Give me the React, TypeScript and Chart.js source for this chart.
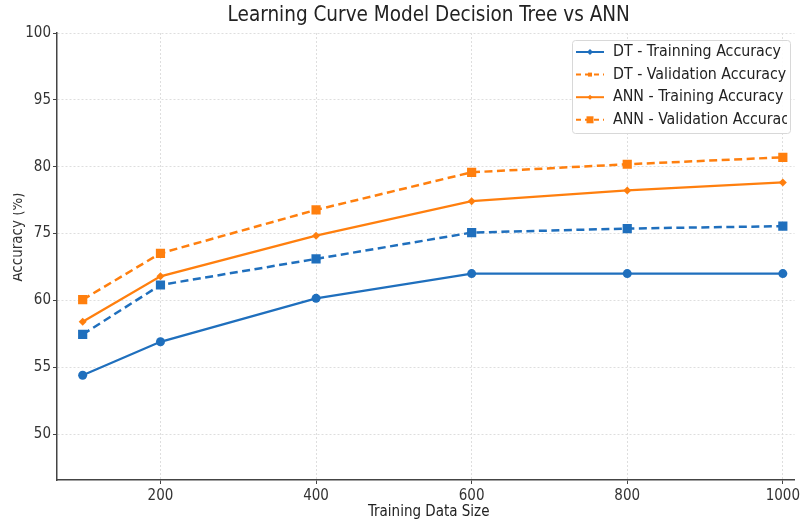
import { useEffect, useRef } from 'react';
import { Chart, registerables } from 'chart.js';

Chart.register(...registerables);

const FONT = "'DejaVu Sans Condensed', 'DejaVu Sans', sans-serif";

const chartTitle = 'Learning Curve Model Decision Tree vs ANN';
const xTitle = 'Training Data Size';
const yTitle = 'Accuracy (%)';

const trainingSizes = [100, 200, 400, 600, 800, 1000];
const xTickValues = [200, 400, 600, 800, 1000];
// evenly spaced gridline positions and the labels printed on them
const yTickPositions = [50, 55, 60, 65, 70, 75, 80];
const yTickLabels = ['50', '55', '60', '75', '80', '95', '100'];

const dtTrain = [54.4, 56.9, 60.15, 62.0, 62.0, 62.0];
const dtVal = [57.45, 61.15, 63.1, 65.07, 65.37, 65.55];
const annTrain = [58.4, 61.8, 64.84, 67.42, 68.22, 68.82];
const annVal = [60.05, 63.52, 66.77, 69.58, 70.18, 70.7];

const seriesNames = [
  'DT - Trainning Accuracy',
  'DT - Validation Accuracy',
  'ANN - Training Accuracy',
  'ANN - Validation Accuracy',
];

const BLUE = '#1f6fbd';
const ORANGE = '#ff7f0e';

const legendItems = [
  { color: BLUE, dash: [] as number[], marker: 'diamond', size: 3 },
  { color: ORANGE, dash: [5, 4], marker: 'square', size: 2 },
  { color: ORANGE, dash: [] as number[], marker: 'diamond', size: 2.5 },
  { color: ORANGE, dash: [5, 4], marker: 'square', size: 3.5 },
];

const overlayPlugin = {
  id: 'overlay',
  afterDraw(chart: any) {
    const { ctx, chartArea } = chart;
    const cx = (chartArea.left + chartArea.right) / 2;
    ctx.save();
    ctx.fillStyle = '#222';
    ctx.textAlign = 'center';
    ctx.textBaseline = 'middle';
    ctx.font = `20.5px ${FONT}`;
    ctx.fillText(chartTitle, cx + 3, 16);
    ctx.font = `15px ${FONT}`;
    ctx.fillText(xTitle, cx + 3, 512);

    // y title (partly cut at the left edge like the reference)
    ctx.save();
    ctx.beginPath();
    ctx.rect(13, 0, 40, 524);
    ctx.clip();
    ctx.translate(22, 237);
    ctx.rotate(-Math.PI / 2);
    ctx.textBaseline = 'alphabetic';
    ctx.fillStyle = '#333';
    ctx.fillText(yTitle, 0, 0);
    ctx.restore();

    // legend
    const bx = 572, by = 40, bw = 218, bh = 93;
    ctx.beginPath();
    (ctx as any).roundRect(bx + 0.5, by + 0.5, bw, bh, 3);
    ctx.fillStyle = 'rgba(255,255,255,0.9)';
    ctx.fill();
    ctx.strokeStyle = '#d8d8d8';
    ctx.lineWidth = 1;
    ctx.stroke();

    ctx.save();
    ctx.beginPath();
    ctx.rect(bx, by, bw - 3, bh);
    ctx.clip();
    legendItems.forEach((it, i) => {
      const y = 52 + i * 22.6;
      ctx.strokeStyle = it.color;
      ctx.fillStyle = it.color;
      ctx.lineWidth = 2;
      ctx.setLineDash(it.dash);
      ctx.beginPath();
      ctx.moveTo(576, y);
      ctx.lineTo(604, y);
      ctx.stroke();
      ctx.setLineDash([]);
      const mx = 590;
      ctx.beginPath();
      if (it.marker === 'diamond') {
        ctx.moveTo(mx, y - it.size);
        ctx.lineTo(mx + it.size, y);
        ctx.lineTo(mx, y + it.size);
        ctx.lineTo(mx - it.size, y);
        ctx.closePath();
      } else {
        ctx.rect(mx - it.size, y - it.size, it.size * 2, it.size * 2);
      }
      ctx.fill();
      ctx.fillStyle = '#222';
      ctx.textAlign = 'left';
      ctx.textBaseline = 'middle';
      ctx.font = `15.8px ${FONT}`;
      ctx.fillText(seriesNames[i], 613, y);
    });
    ctx.restore();
    ctx.restore();
  },
};

function toPoints(vals: number[]) {
  return trainingSizes.map((x, i) => ({ x, y: vals[i] }));
}

export default function App() {
  const ref = useRef<HTMLCanvasElement | null>(null);

  useEffect(() => {
    document.body.style.margin = '0';
    const canvas = ref.current;
    if (!canvas) return;
    const chart = new Chart(canvas, {
      type: 'line',
      data: {
        datasets: [
          {
            label: seriesNames[0],
            data: toPoints(dtTrain),
            borderColor: BLUE,
            backgroundColor: BLUE,
            borderWidth: 2.3,
            pointStyle: 'circle',
            pointRadius: 4.5,
            pointBorderWidth: 0,
          },
          {
            label: seriesNames[1],
            data: toPoints(dtVal),
            borderColor: BLUE,
            backgroundColor: BLUE,
            borderWidth: 2.5,
            borderDash: [8, 4.5],
            pointStyle: 'rect',
            pointRadius: 6.5,
            pointBorderWidth: 0,
          },
          {
            label: seriesNames[2],
            data: toPoints(annTrain),
            borderColor: ORANGE,
            backgroundColor: ORANGE,
            borderWidth: 2.3,
            pointStyle: 'rectRot',
            pointRadius: 4,
            pointBorderWidth: 0,
          },
          {
            label: seriesNames[3],
            data: toPoints(annVal),
            borderColor: ORANGE,
            backgroundColor: ORANGE,
            borderWidth: 2.5,
            borderDash: [8, 4.5],
            pointStyle: 'rect',
            pointRadius: 6.5,
            pointBorderWidth: 0,
          },
        ],
      },
      options: {
        animation: false,
        responsive: false,
        layout: { padding: { top: 33, right: 4, left: 0, bottom: 0 } },
        plugins: {
          legend: { display: false },
          title: { display: false },
          tooltip: { enabled: false },
        },
        scales: {
          x: {
            type: 'linear',
            min: 67,
            max: 1015,
            afterBuildTicks: (s: any) => {
              s.ticks = xTickValues.map((v) => ({ value: v }));
            },
            afterFit: (s: any) => {
              s.height = 44;
              s.paddingLeft = 0;
              s.paddingRight = 0;
            },
            ticks: {
              font: { family: FONT, size: 15 },
              color: '#333',
              padding: 3,
              maxRotation: 0,
              autoSkip: false,
              callback: (v: any) => String(v),
            },
            grid: {
              color: '#dedede',
              lineWidth: 1,
              tickLength: 4,
              tickColor: '#444',
              tickBorderDash: [],
            },
            border: { display: true, color: '#444', width: 1.5, dash: [2, 2] },
          },
          y: {
            type: 'linear',
            min: 46.56,
            max: 80,
            afterBuildTicks: (s: any) => {
              s.ticks = yTickPositions.map((v) => ({ value: v }));
            },
            afterFit: (s: any) => {
              s.width = 57;
              s.paddingTop = 0;
              s.paddingBottom = 0;
            },
            ticks: {
              font: { family: FONT, size: 15 },
              color: '#333',
              padding: 2,
              autoSkip: false,
              callback: (_v: any, i: number) => yTickLabels[i],
            },
            grid: {
              color: '#dedede',
              lineWidth: 1,
              tickLength: 4,
              tickColor: '#444',
              tickBorderDash: [],
            },
            border: { display: true, color: '#444', width: 1.5, dash: [2, 2] },
          },
        },
      },
      plugins: [overlayPlugin],
    } as any);
    return () => chart.destroy();
  }, []);

  return (
    <div style={{ width: 801, height: 524 }}>
      <canvas ref={ref} width={801} height={524} style={{ display: 'block' }} />
    </div>
  );
}
